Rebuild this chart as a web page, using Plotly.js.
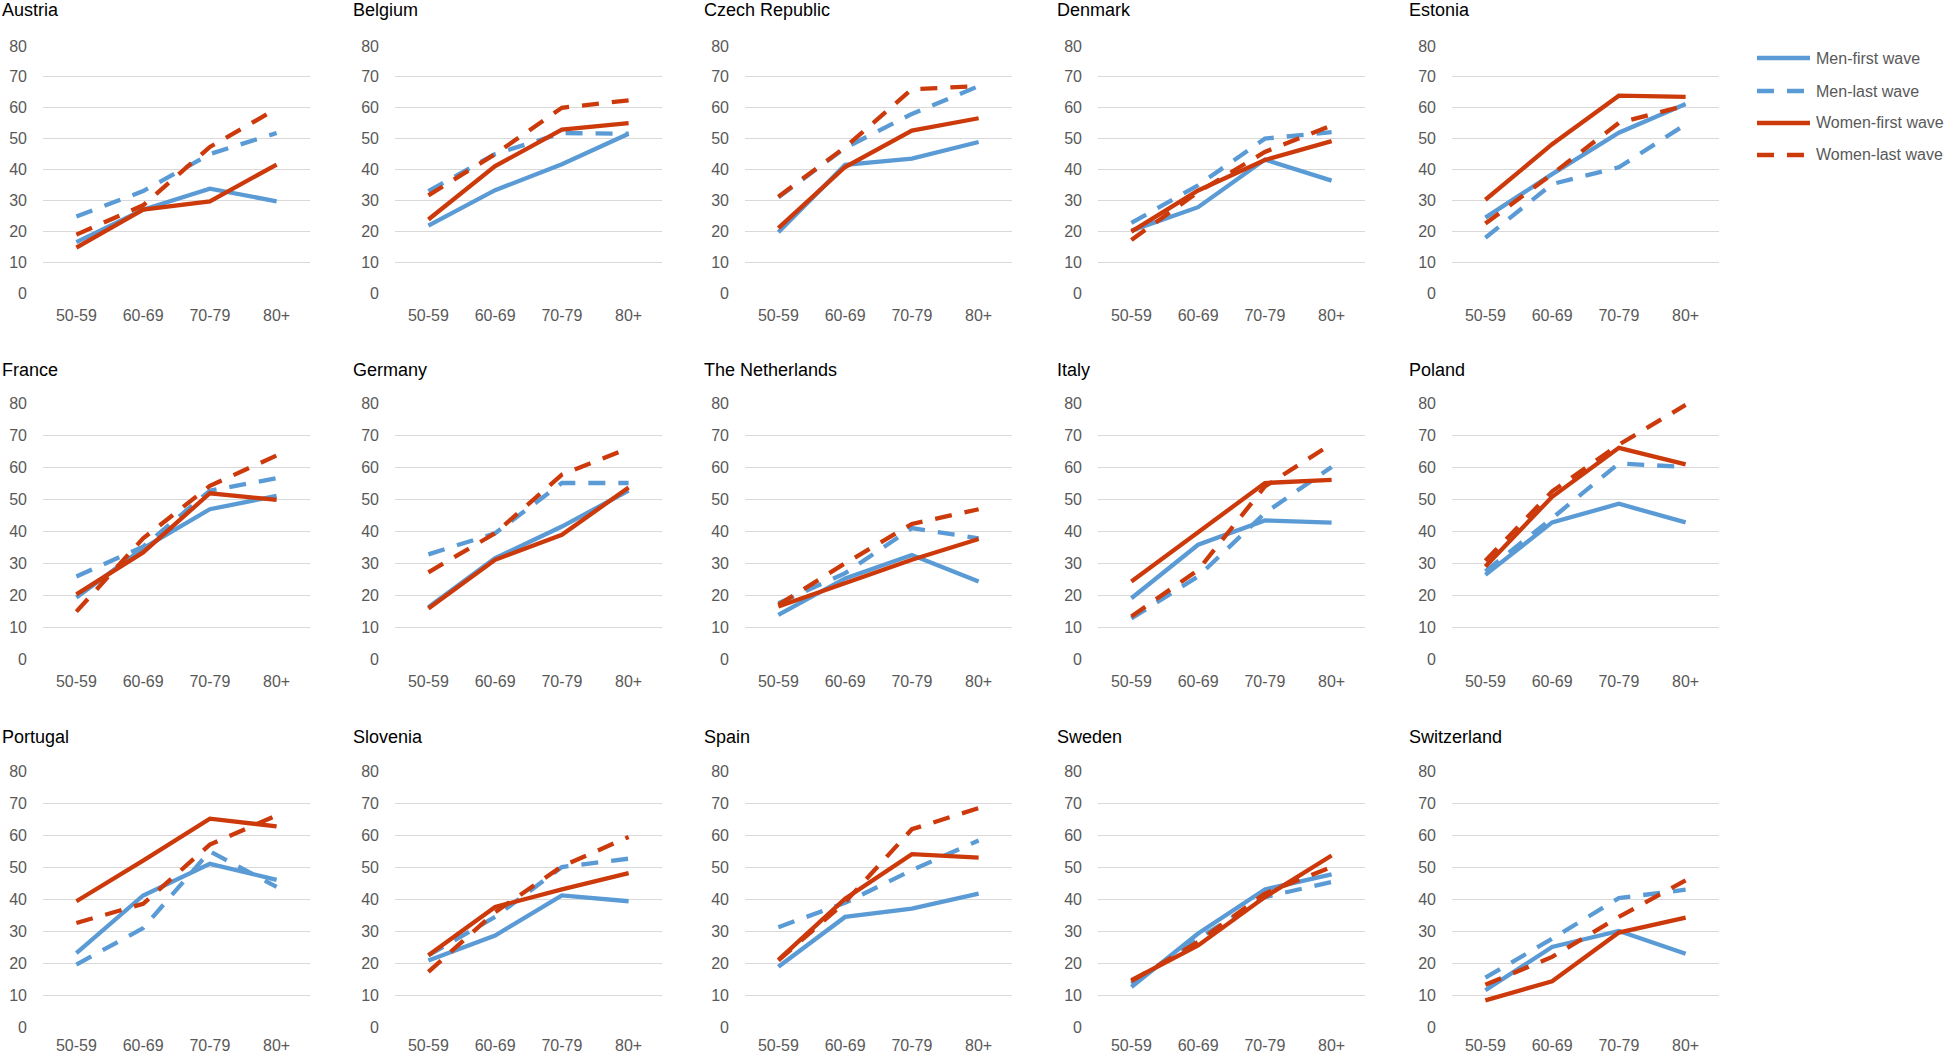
<!DOCTYPE html>
<html>
<head>
<meta charset="utf-8">
<script src="https://cdn.plot.ly/plotly-3.0.1.min.js"></script>
<style>
  html, body { margin: 0; padding: 0; background: #ffffff; }
  #chart { width: 1946px; height: 1055px; }
</style>
</head>
<body>
<div id="chart"></div>
<script>
const ageGroups = ["50-59", "60-69", "70-79", "80+"];
const countries = ["Austria", "Belgium", "Czech Republic", "Denmark", "Estonia",
                   "France", "Germany", "The Netherlands", "Italy", "Poland",
                   "Portugal", "Slovenia", "Spain", "Sweden", "Switzerland"];
const seriesNames = ["Men-first wave", "Men-last wave", "Women-first wave", "Women-last wave"];
const yTicks = [0, 10, 20, 30, 40, 50, 60, 70, 80];

const menFirst = [
  [16.5, 27, 33.8, 29.7],
  [21.8, 33.3, 41.7, 51.6],
  [19.7, 41.5, 43.5, 48.9],
  [20.2, 27.8, 43.2, 36.4],
  [24.4, 38.5, 51.9, 61.2],
  [19.2, 34.6, 46.8, 51],
  [16.2, 31.5, 41.4, 52.6],
  [13.8, 25.2, 32.5, 24.2],
  [19, 35.7, 43.3, 42.6],
  [26.3, 42.7, 48.5, 42.7],
  [23.1, 41.1, 51, 46],
  [20.8, 28.6, 41.1, 39.3],
  [18.8, 34.4, 37, 41.7],
  [12.5, 29.2, 43, 47.7],
  [11.5, 25, 30, 22.9]
];
const menLast = [
  [24.8, 33, 45, 51.8],
  [33, 45, 51.8, 51.6],
  [31, 47, 58, 67],
  [22.7, 34.9, 50, 52.1],
  [17.9, 35.3, 40.7, 54.6],
  [25.8, 35.1, 52.6, 56.5],
  [32.7, 39.3, 55, 55],
  [17.4, 26.8, 40.9, 37.7],
  [12.7, 25.8, 45.6, 60],
  [27.4, 44, 61.1, 60],
  [19.5, 30.9, 54.9, 43.8],
  [22.4, 34.4, 50, 52.6],
  [31.2, 38.8, 49, 58.3],
  [13.5, 27.6, 40.6, 45.3],
  [15.4, 27.6, 40.3, 42.9]
];
const womenFirst = [
  [14.7, 27, 29.7, 41.6],
  [23.8, 41.1, 52.9, 55],
  [21, 40.8, 52.6, 56.6],
  [19.9, 33.2, 43.1, 49.2],
  [30.2, 48.2, 63.9, 63.5],
  [20.2, 33.3, 51.8, 49.7],
  [15.8, 31, 38.8, 53.6],
  [16.4, 23.7, 31, 37.5],
  [24.2, 39.5, 55, 56],
  [28.9, 50.7, 66, 60.8],
  [39.3, 52, 65.1, 62.7],
  [22.4, 37.5, 43, 48.1],
  [21, 40.1, 54, 52.9],
  [14.6, 25.5, 40.6, 53.6],
  [8.3, 14.3, 29.5, 34.2]
];
const womenLast = [
  [18.9, 28.4, 47.3, 59.7],
  [31.6, 45, 60, 62.4],
  [31.2, 47.2, 66, 67],
  [17.2, 32.7, 45.7, 54.3],
  [22.5, 38.5, 55.1, 60.7],
  [14.8, 37.7, 54.1, 63.6],
  [27.1, 39.3, 57.6, 65.9],
  [16.9, 29.9, 42.2, 46.8],
  [13.3, 27.8, 53.9, 67.2],
  [30.7, 52.4, 67, 79.4],
  [32.5, 38.5, 57, 66.1],
  [17.2, 35.9, 50.2, 59.4],
  [20.8, 39, 61.8, 68.4],
  [14.3, 26.6, 41.7, 50],
  [13.2, 21.9, 34.4, 45.8]
];

const BLUE = "#5B9BD5";
const RED = "#CC3A0B";
const seriesData = [menFirst, menLast, womenFirst, womenLast];
const seriesColor = [BLUE, BLUE, RED, RED];
const seriesDash = ["solid", "17px,13px", "solid", "17px,13px"];

const W = 1946, H = 1055;
const colX0 = [43, 395, 745, 1098, 1452];
const plotW = 267;
const rowY = [[46, 293], [403, 659], [771, 1027]];
const xStandoff = [11, 11, 7];
const titleX = [0, 351, 702, 1055, 1407];
const titleY = [-2, 358, 725];
const FONT = "Liberation Sans, Arial, sans-serif";

const traces = [];
const layout = {
  width: W, height: H,
  margin: {l: 0, r: 0, t: 0, b: 0},
  paper_bgcolor: "#ffffff",
  plot_bgcolor: "#ffffff",
  showlegend: false,
  font: {family: FONT, size: 16, color: "#595959"},
  annotations: [],
  shapes: []
};

countries.forEach((c, i) => {
  const row = Math.floor(i / 5), col = i % 5;
  const n = i + 1;
  const xk = n === 1 ? "xaxis" : "xaxis" + n;
  const yk = n === 1 ? "yaxis" : "yaxis" + n;
  const xr = n === 1 ? "x" : "x" + n;
  const yr = n === 1 ? "y" : "y" + n;
  layout[xk] = {
    domain: [colX0[col] / W, (colX0[col] + plotW) / W],
    anchor: yr,
    type: "category",
    categoryorder: "array",
    categoryarray: ageGroups,
    range: [-0.5, 3.5],
    showgrid: false, zeroline: false, showline: false,
    ticks: "", ticklabelstandoff: xStandoff[row],
    tickfont: {family: FONT, size: 16, color: "#595959"},
    fixedrange: true
  };
  layout[yk] = {
    domain: [1 - rowY[row][1] / H, 1 - rowY[row][0] / H],
    anchor: xr,
    range: [0, 80],
    tickvals: yTicks,
    showgrid: true, gridcolor: "#D9D9D9", gridwidth: 1,
    zeroline: false, showline: false,
    ticks: "", ticklabelstandoff: 15,
    tickfont: {family: FONT, size: 16, color: "#595959"},
    fixedrange: true
  };
  seriesData.forEach((s, k) => {
    traces.push({
      type: "scatter", mode: "lines",
      x: ageGroups, y: s[i],
      xaxis: xr, yaxis: yr,
      name: seriesNames[k],
      line: {color: seriesColor[k], width: 4.3, dash: seriesDash[k]},
      hoverinfo: "skip"
    });
  });
  layout.annotations.push({
    xref: "paper", yref: "paper",
    x: titleX[col] / W, y: 1 - Math.max(titleY[row], 0) / H,
    yshift: titleY[row] < 0 ? -titleY[row] : 0,
    xanchor: "left", yanchor: "top",
    text: c, showarrow: false,
    font: {family: FONT, size: 18, color: "#000000"}
  });
});

// Legend (drawn at the right of the first row)
const legY = [58, 91, 123, 155];
seriesNames.forEach((nm, k) => {
  layout.shapes.push({
    type: "line", xref: "paper", yref: "paper",
    x0: 1757 / W, x1: 1810 / W,
    y0: 1 - legY[k] / H, y1: 1 - legY[k] / H,
    line: {color: seriesColor[k], width: 4.3, dash: seriesDash[k]}
  });
  layout.annotations.push({
    xref: "paper", yref: "paper",
    x: 1814 / W, y: 1 - legY[k] / H,
    xanchor: "left", yanchor: "middle",
    text: nm, showarrow: false,
    font: {family: FONT, size: 16, color: "#595959"}
  });
});

Plotly.newPlot("chart", traces, layout, {staticPlot: true, displayModeBar: false});
</script>
</body>
</html>
